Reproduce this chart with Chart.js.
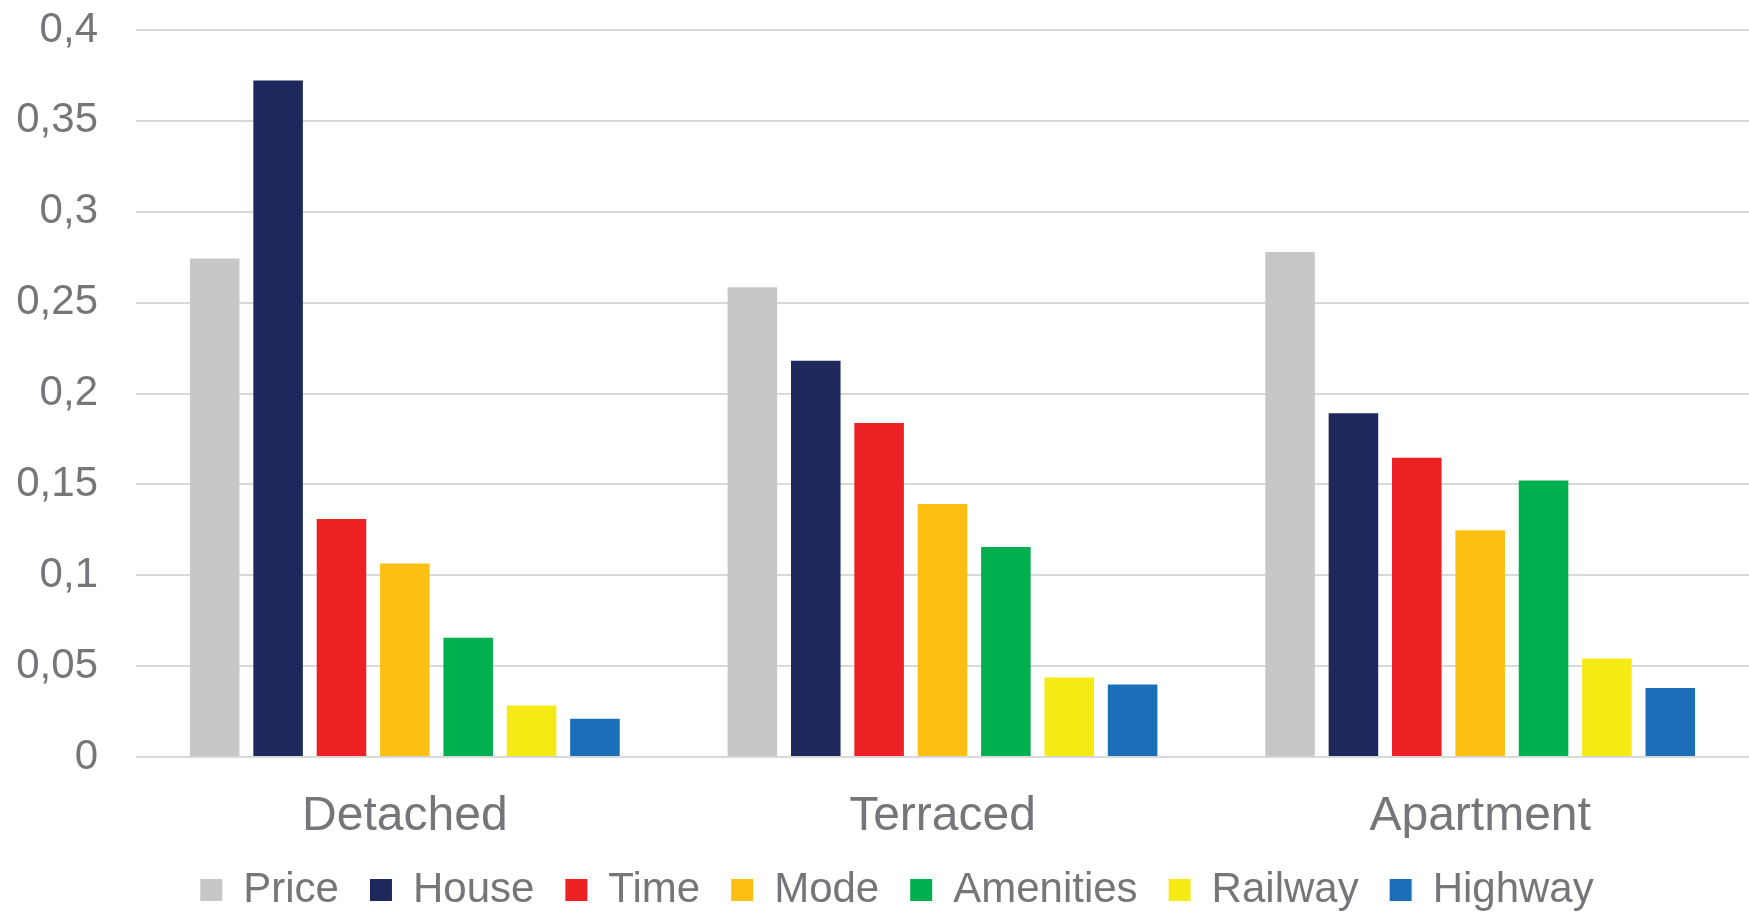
<!DOCTYPE html>
<html>
<head>
<meta charset="utf-8">
<script src="https://cdn.jsdelivr.net/npm/chart.js@4.4.1/dist/chart.umd.min.js"></script>
<style>
  html, body { margin: 0; padding: 0; background: #ffffff; }
  #wrap { position: relative; width: 1749px; height: 914px; }
</style>
</head>
<body>
<div id="wrap"><canvas id="chart"></canvas></div>
<script>
// categories and series
var categories = ["Detached", "Terraced", "Apartment"];
var seriesNames = ["Price", "House", "Time", "Mode", "Amenities", "Railway", "Highway"];
var seriesColors = ["#c6c7c9", "#1f285c", "#ed2024", "#fdbf11", "#00af4e", "#f5ea14", "#1a6fb8"];

var price     = [0.2743, 0.2584, 0.2778];
var house     = [0.3722, 0.2180, 0.1892];
var time      = [0.1309, 0.1838, 0.1646];
var mode      = [0.1065, 0.1392, 0.1247];
var amenities = [0.0656, 0.1156, 0.1522];
var railway   = [0.0283, 0.0437, 0.0542];
var highway   = [0.0210, 0.0399, 0.0379];

var yTickLabels = ["0", "0,05", "0,1", "0,15", "0,2", "0,25", "0,3", "0,35", "0,4"];

var seriesValues = [price, house, time, mode, amenities, railway, highway];
var textColor = "#75767a";
var fontFamily = "'Liberation Sans', Arial, sans-serif";

var datasets = [];
for (var i = 0; i < seriesNames.length; i++)
{
    datasets.push({
        label: seriesNames[i],
        data: seriesValues[i],
        backgroundColor: seriesColors[i],
        borderWidth: 0,
        categoryPercentage: 0.825,
        barPercentage: 0.782
    });
}

// legend sits a little lower and right of centre, like the original
var legendTweak = {
    id: 'legendTweak',
    beforeLayout: function(chart)
    {
        var lg = chart.legend;
        if (lg && !lg._tweaked)
        {
            var fit = lg.fit;
            lg.fit = function() { fit.call(this); this.height -= 7; };
            lg._tweaked = true;
        }
    },
    afterLayout: function(chart)
    {
        if (chart.legend) { chart.legend.left += 45; }
    }
};

var ctx = document.getElementById("chart").getContext("2d");
var mychart = new Chart(ctx, {
    type: 'bar',
    data: { labels: categories, datasets: datasets },
    plugins: [legendTweak],
    options: {
        responsive: true,
        maintainAspectRatio: false,
        animation: false,
        layout: { padding: { left: 0, right: 0, top: 30, bottom: 0 } },
        plugins: {
            tooltip: { enabled: false },
            legend: {
                position: 'bottom',
                labels: {
                    color: textColor,
                    font: { family: fontFamily, size: 42 },
                    boxWidth: 22,
                    boxHeight: 22,
                    padding: 31
                }
            }
        },
        scales: {
            x: {
                grid: { display: false },
                border: { display: false },
                ticks: {
                    color: textColor,
                    font: { family: fontFamily, size: 48 },
                    padding: 23
                },
                afterFit: function(scale) { scale.height = 81; }
            },
            y: {
                min: 0,
                max: 0.4,
                grid: { color: "#d9d9d9", lineWidth: 2, drawTicks: true, tickLength: 38, tickColor: "rgba(0,0,0,0)" },
                border: { display: false },
                ticks: {
                    stepSize: 0.05,
                    color: textColor,
                    font: { family: fontFamily, size: 42 },
                    padding: 0,
                    callback: function(value, index) { return yTickLabels[index]; }
                },
                afterFit: function(scale) { scale.width = 136; }
            }
        }
    }
});
</script>
</body>
</html>
